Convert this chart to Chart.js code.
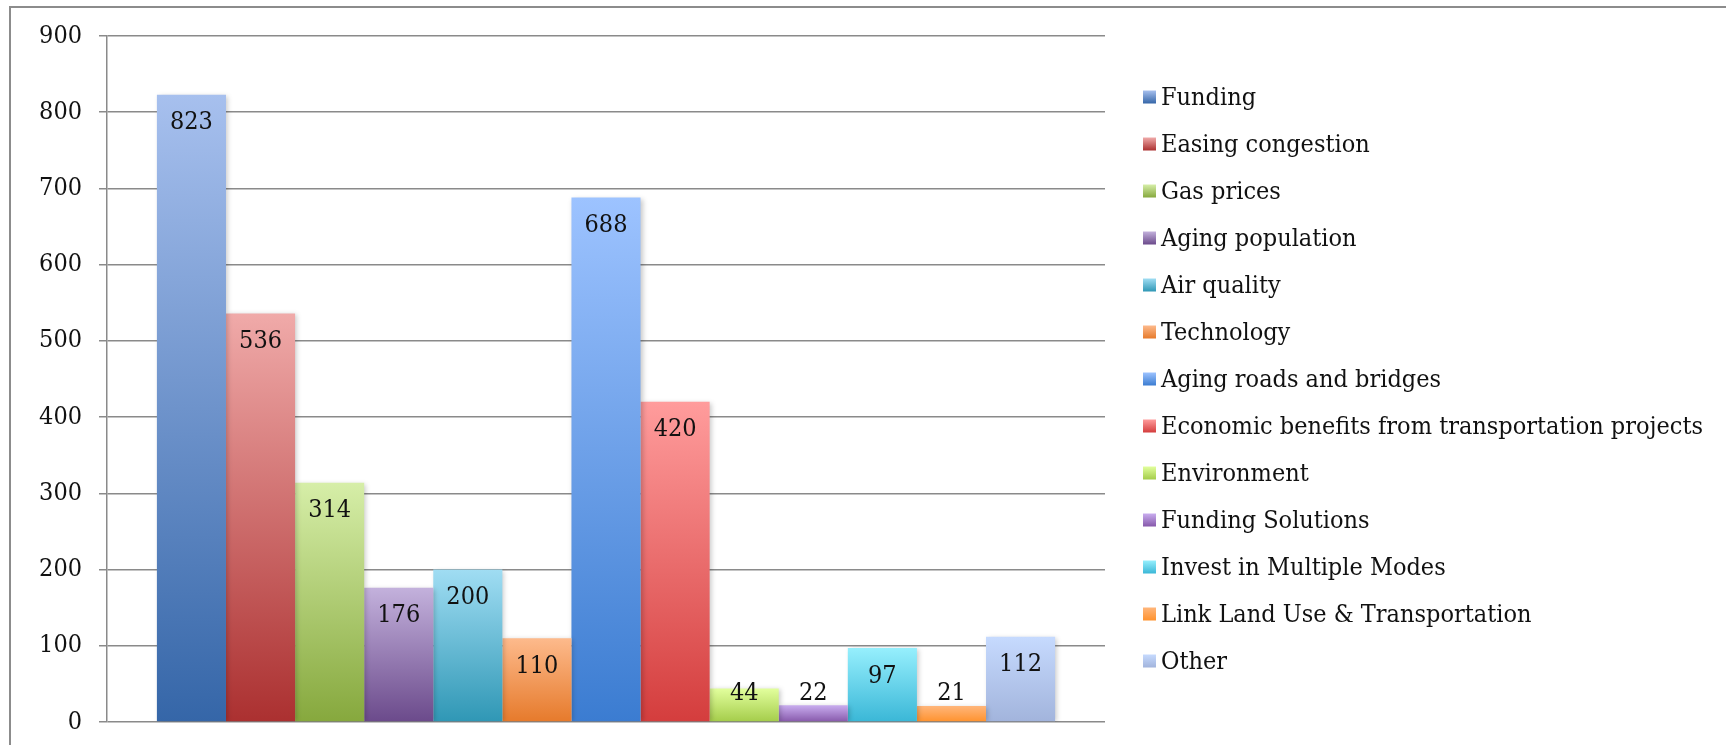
<!DOCTYPE html>
<html>
<head>
<meta charset="utf-8">
<title>Transportation issues</title>
<script src="https://cdn.jsdelivr.net/npm/chart.js@4.4.0/dist/chart.umd.min.js"></script>
<style>
    html, body { margin: 0; padding: 0; background: #fff; overflow: hidden; }
    .frame {
        position: absolute; left: 9px; top: 6px; width: 1760px; height: 780px;
        border-left: 2px solid #8c8c8c; border-top: 2px solid #8c8c8c;
    }
    .chart-box { position: absolute; left: 0; top: 0; width: 1726px; height: 745px; }
</style>
</head>
<body>
<div class="frame"></div>
<div class="chart-box"><canvas id="issuesChart"></canvas></div>
<script>
// Chart data
const categories = [''];
const seriesNames = [
    'Funding', 'Easing congestion', 'Gas prices', 'Aging population', 'Air quality', 'Technology',
    'Aging roads and bridges', 'Economic benefits from transportation projects', 'Environment',
    'Funding Solutions', 'Invest in Multiple Modes', 'Link Land Use & Transportation', 'Other'
];
const seriesValues = [823, 536, 314, 176, 200, 110, 688, 420, 44, 22, 97, 21, 112];
const yTicks = [0, 100, 200, 300, 400, 500, 600, 700, 800, 900];

// Gradient colours (top -> bottom) for each series
const topColors = ['#a7c0ee', '#f0aaa9', '#d6eea8', '#c3b1dc', '#a0ddf3', '#fdba8c', '#9dc3ff',
    '#ff9c9c', '#e2ff9d', '#c9adef', '#96effd', '#ffb67b', '#c6dafe'];
const bottomColors = ['#3566a8', '#ab3030', '#86a83d', '#6b4a8b', '#2f97b5', '#e67a2b', '#3b7cd1',
    '#d43d3d', '#a4cc4a', '#8658aa', '#3ab7d7', '#ff922d', '#a2b4dc'];

const FONT = '"DejaVu Serif Condensed", "Liberation Serif", serif';
const FONT_SIZE = 25;

function barFill(ctx) {
    const i = ctx.datasetIndex;
    const chart = ctx.chart;
    if (ctx.type !== 'data' || !chart.chartArea) return bottomColors[i];
    const y = chart.scales.y;
    const top = y.getPixelForValue(ctx.raw);
    const base = y.getPixelForValue(0);
    const g = chart.ctx.createLinearGradient(0, top, 0, base);
    g.addColorStop(0, topColors[i]);
    g.addColorStop(1, bottomColors[i]);
    return g;
}

// Soft shadow behind the bars
const barShadow = {
    id: 'barShadow',
    beforeDatasetsDraw(chart) {
        const c = chart.ctx;
        c.save();
        c.shadowColor = 'rgba(0, 0, 0, 0.22)';
        c.shadowBlur = 5;
        c.shadowOffsetX = 2;
        c.shadowOffsetY = 1;
    },
    afterDatasetsDraw(chart) {
        chart.ctx.restore();
    }
};

// Value labels inside the top of each bar
const valueLabels = {
    id: 'valueLabels',
    afterDatasetsDraw(chart) {
        const c = chart.ctx;
        c.save();
        c.font = FONT_SIZE + 'px ' + FONT;
        c.fillStyle = '#111';
        c.textAlign = 'center';
        c.textBaseline = 'middle';
        chart.data.datasets.forEach((ds, i) => {
            chart.getDatasetMeta(i).data.forEach((bar, j) => {
                const y = Math.min(bar.y + 28, bar.base - 28);
                c.fillText(ds.data[j], bar.x, y);
            });
        });
        c.restore();
    }
};

// Legend on the right, one row per series with a gradient square
const sideLegend = {
    id: 'sideLegend',
    afterDraw(chart) {
        const c = chart.ctx;
        const area = chart.chartArea;
        const n = chart.data.datasets.length;
        const step = 47;
        const mid = (area.top + area.bottom) / 2;
        const x = area.right + 38;
        c.save();
        c.font = FONT_SIZE + 'px ' + FONT;
        c.textAlign = 'left';
        c.textBaseline = 'middle';
        chart.data.datasets.forEach((ds, i) => {
            const y = mid + (i - (n - 1) / 2) * step;
            const g = c.createLinearGradient(0, y - 6.5, 0, y + 6.5);
            g.addColorStop(0, topColors[i]);
            g.addColorStop(1, bottomColors[i]);
            c.fillStyle = g;
            c.fillRect(x, y - 6.5, 13, 13);
            c.fillStyle = '#111';
            c.fillText(ds.label, x + 18, y + 1);
        });
        c.restore();
    }
};

const datasets = seriesNames.map((name, i) => ({
    label: name,
    data: [seriesValues[i]],
    backgroundColor: barFill,
    borderWidth: 0,
    categoryPercentage: 0.9,
    barPercentage: 1.0
}));

new Chart(document.getElementById('issuesChart'), {
    type: 'bar',
    data: { labels: categories, datasets: datasets },
    plugins: [barShadow, valueLabels, sideLegend],
    options: {
        responsive: true,
        maintainAspectRatio: false,
        animation: false,
        layout: { padding: { top: 36, bottom: 23, left: 30, right: 621 } },
        plugins: {
            tooltip: { enabled: false },
            legend: { display: false }
        },
        scales: {
            x: {
                display: false
            },
            y: {
                min: 0,
                max: 900,
                afterBuildTicks: (axis) => { axis.ticks = yTicks.map(v => ({ value: v })); },
                afterFit: (axis) => {
                    axis.width = 77;
                    axis.paddingTop = 0;
                    axis.paddingBottom = 0;
                },
                ticks: {
                    padding: 17,
                    color: '#111',
                    font: { family: FONT, size: FONT_SIZE }
                },
                grid: { color: '#8a8a8a', lineWidth: 1.5, tickLength: 8 },
                border: { color: '#8a8a8a', width: 1.5 }
            }
        }
    }
});
</script>
</body>
</html>
